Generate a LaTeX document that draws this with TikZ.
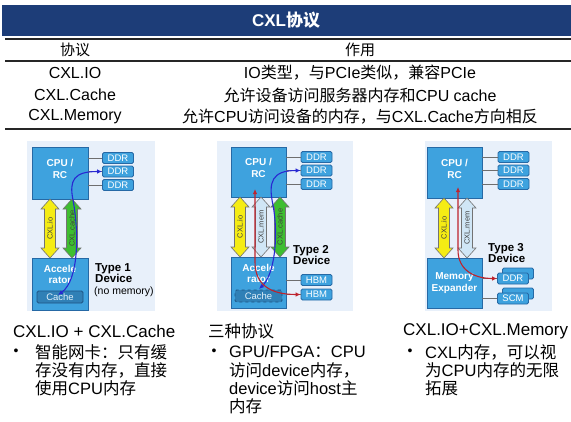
\documentclass[tikz,border=0pt]{standalone}
\usepackage{fontspec}
\setmainfont{Liberation Sans}
\newfontfamily\cjk{Noto Sans CJK SC}
\usetikzlibrary{arrows.meta}
\definecolor{navy}{RGB}{29,61,120}
\definecolor{panelbg}{RGB}{232,240,250}
\definecolor{boxblue}{RGB}{62,162,222}
\definecolor{boxline}{RGB}{38,105,165}
\definecolor{cachefill}{RGB}{48,128,182}
\definecolor{ioyellow}{RGB}{245,236,20}
\definecolor{cachegreen}{RGB}{62,190,48}
\definecolor{memblue}{RGB}{208,230,246}
\definecolor{curveblue}{RGB}{40,40,210}
\definecolor{curvered}{RGB}{190,35,45}
\definecolor{linkgray}{RGB}{110,110,110}
\newcommand\fsz[1]{\fontsize{#1}{#1}\selectfont}
\newcommand\zh[1]{{\cjk #1}}
\newcommand\fatarrow[6]{%
  \draw[line width=0.6pt, draw=black!55, fill=#5]
    (#2-9,#3+10) -- (#2,#3) -- (#2+9,#3+10) -- (#2+5.5,#3+10) -- (#2+5.5,#4-10)
    -- (#2+9,#4-10) -- (#2,#4) -- (#2-9,#4-10) -- (#2-5.5,#4-10) -- (#2-5.5,#3+10) -- cycle;
  \node[rotate=90, font=\fsz{7.5}, text=black!75, inner sep=0] (#1) at (#2,{(#3+#4)/2}) {#6};}
\tikzset{
  panel/.style={fill=panelbg, draw=none},
  bigbox/.style={draw=boxline, fill=boxblue, line width=0.8pt, inner sep=0},
  boxtext/.style={text=white, font=\bfseries\fsz{10}, align=center, inner sep=0},
  membox/.style={draw=boxline, fill=boxblue, line width=0.8pt, rounded corners=1.5pt,
    minimum width=31pt, minimum height=11pt, inner sep=0, text=white, font=\fsz{9.5}},
  cachebox/.style={draw=boxline!80!black, fill=cachefill, line width=0.8pt, rounded corners=1.5pt,
    minimum width=46pt, minimum height=12pt, inner sep=0, text=white!85!boxblue, font=\fsz{9.5}},
  link/.style={draw=linkgray, line width=0.6pt},
  typetext/.style={font=\bfseries\fsz{11.5}, anchor=west, inner sep=0, align=left},
  flowb/.style={draw=curveblue, line width=1.1pt, {Latex[length=5pt,width=4.5pt]}-{Latex[length=5pt,width=4.5pt]}},
  flowr/.style={draw=curvered, line width=1.1pt, {Latex[length=5pt,width=4.5pt]}-{Latex[length=5pt,width=4.5pt]}},
  tabrule/.style={draw=black!85, line width=1.5pt},
  cell/.style={font=\fsz{16}, inner sep=0},
  note/.style={font=\fsz{16.5}, anchor=west, inner sep=0},
}
\begin{document}
\begin{tikzpicture}[x=1pt,y=-1pt]
\useasboundingbox (0,0) rectangle (571,421);
\fill[white] (0,0) rectangle (571,421);
% title and table
\node[fill=navy, minimum width=569pt, minimum height=31pt, inner sep=0, anchor=north west] (titlebar) at (2,5) {};
\node[text=white, font=\bfseries\fsz{17}, inner sep=0] (title) at (286,20.5) {CXL\zh{协议}};
\draw[tabrule] (5,39) -- (571,39);
\draw[tabrule, line width=1.2pt] (5,61) -- (571,61);
\draw[tabrule] (5,129) -- (571,129);
\node[cell, font=\fsz{15}] (h1) at (75,49.5) {\zh{协议}};
\node[cell, font=\fsz{15}] (h2) at (360,49.5) {\zh{作用}};
\node[cell] (r1a) at (75,73) {CXL.IO};
\node[cell] (r1b) at (360,73) {IO\zh{类型，与}PCIe\zh{类似，兼容}PCIe};
\node[cell] (r2a) at (75,95) {CXL.Cache};
\node[cell] (r2b) at (360,95) {\zh{允许设备访问服务器内存和}CPU cache};
\node[cell] (r3a) at (75,117) {CXL.Memory};
\node[cell] (r3b) at (360,117) {\zh{允许}CPU\zh{访问设备的内存，与}CXL.Cache\zh{方向相反}};
% panels
\fill[panel] (27,141) rectangle (155,311);
\fill[panel] (217,141) rectangle (353,311);
\fill[panel] (425,141) rectangle (552,311);
%% panel 1
\node[bigbox, minimum width=56pt, minimum height=52pt] (cpu1) at (60,173) {};
\node[boxtext] (cpu1t) at (60,169) {CPU /\\[2pt]RC};
\node[membox] (ddr11) at (118,158) {DDR};
\node[membox] (ddr12) at (118,171.5) {DDR};
\node[membox] (ddr13) at (118,185) {DDR};
\foreach \d in {ddr11,ddr12,ddr13} \draw[link] (cpu1.east |- \d) -- (\d.west);
\fatarrow{io1}{50}{199}{258}{ioyellow}{CXL.io}
\fatarrow{ca1}{72}{199}{258}{cachegreen}{CXL.cache}
\node[bigbox, minimum width=56pt, minimum height=52pt] (acc1) at (60,284) {};
\node[boxtext] (acc1t) at (60,274) {Accele\\[1pt]rator};
\node[cachebox] (cache1) at (60,297) {Cache};
\node[typetext] (type1) at (95,273) {Type 1\\Device};
\node[font=\fsz{10.5}, anchor=west, inner sep=0] (nomem) at (94,292) {(no memory)};
\coordinate (b1s) at (58,295);
\draw[flowb] (b1s) .. controls (79,280) and (79,232) .. (73,200) .. controls (69,180) and (74,171.5) .. (ddr12.west);
%% panel 2
\node[bigbox, minimum width=55pt, minimum height=50pt] (cpu2) at (258.5,172) {};
\node[boxtext] (cpu2t) at (258.5,168) {CPU /\\[2pt]RC};
\node[membox] (ddr21) at (316.5,157) {DDR};
\node[membox] (ddr22) at (316.5,170.5) {DDR};
\node[membox] (ddr23) at (316.5,184) {DDR};
\foreach \d in {ddr21,ddr22,ddr23} \draw[link] (cpu2.east |- \d) -- (\d.west);
\fatarrow{io2}{240}{197}{257}{ioyellow}{CXL.io}
\fatarrow{me2}{261}{197}{257}{memblue}{CXL.mem}
\fatarrow{ca2}{280}{197}{257}{cachegreen}{CXL.cache}
\node[bigbox, minimum width=55pt, minimum height=51pt] (acc2) at (258.5,282.5) {};
\node[boxtext] (acc2t) at (258.5,273) {Accele\\[1pt]rator};
\node[cachebox, dashed, minimum width=47pt] (cache2) at (258.5,296) {Cache};
\node[membox] (hbm21) at (316.5,280) {HBM};
\node[membox] (hbm22) at (316.5,294.5) {HBM};
\foreach \d in {hbm21,hbm22} \draw[link] (acc2.east |- \d) -- (\d.west);
\node[typetext] (type2) at (293,255) {Type 2\\Device};
\coordinate (b2s) at (259,289);
\draw[flowb] (b2s) .. controls (274,275) and (279,238) .. (273,205) .. controls (268,182) and (272,170.5) .. (ddr22.west);
\coordinate (r2t) at (255,189);
\draw[flowr] (r2t) -- (255,262) .. controls (255,286) and (272,294.5) .. (hbm22.west);
%% panel 3
\node[bigbox, minimum width=55pt, minimum height=51pt] (cpu3) at (454.5,172.5) {};
\node[boxtext] (cpu3t) at (454.5,168.5) {CPU /\\[2pt]RC};
\node[membox] (ddr31) at (513.5,157) {DDR};
\node[membox] (ddr32) at (513.5,170.5) {DDR};
\node[membox] (ddr33) at (513.5,184) {DDR};
\foreach \d in {ddr31,ddr32,ddr33} \draw[link] (cpu3.east |- \d) -- (\d.west);
\fatarrow{io3}{444}{198}{258}{ioyellow}{CXL.io}
\fatarrow{me3}{467}{198}{258}{memblue}{CXL.mem}
\node[bigbox, minimum width=55pt, minimum height=50pt] (mex) at (454.5,283) {};
\node[boxtext] (mext) at (454.5,283) {Memory\\[2pt]Expander};
\node[membox] (ddr3b) at (518,273.5) {};
\node[membox] (ddr3f) at (513,278.5) {DDR};
\node[membox] (scm3b) at (518,293.5) {};
\node[membox] (scm3f) at (513,298.5) {SCM};
\foreach \d in {ddr3f,scm3f} \draw[link] (mex.east |- \d) -- (\d.west);
\node[typetext] (type3) at (488,253) {Type 3\\Device};
\coordinate (r3t) at (458,187);
\draw[flowr] (r3t) -- (458,250) .. controls (458,270) and (474,278.5) .. (ddr3f.west);
% bottom notes
\node[note, font=\fsz{17}] (n1h) at (13,331) {CXL.IO + CXL.Cache};
\node[font=\fsz{14}, inner sep=0] (n1b) at (16,352) {•};
\node[note] (n11) at (35,352) {\zh{智能网卡：只有缓}};
\node[note] (n12) at (35,370) {\zh{存没有内存，直接}};
\node[note] (n13) at (35,388) {\zh{使用}CPU\zh{内存}};
\node[note] (n2h) at (208,331) {\zh{三种协议}};
\node[font=\fsz{14}, inner sep=0] (n2b) at (214,352) {•};
\node[note] (n21) at (229,352) {GPU/FPGA\zh{：}CPU};
\node[note] (n22) at (229,370) {\zh{访问}device\zh{内存，}};
\node[note] (n23) at (229,388) {device\zh{访问}host\zh{主}};
\node[note] (n24) at (229,406) {\zh{内存}};
\node[note, font=\fsz{17}] (n3h) at (403,331) {CXL.IO+CXL.Memory};
\node[font=\fsz{14}, inner sep=0] (n3b) at (410,352) {•};
\node[note] (n31) at (425,352) {CXL\zh{内存，可以视}};
\node[note] (n32) at (425,370) {\zh{为}CPU\zh{内存的无限}};
\node[note] (n33) at (425,388) {\zh{拓展}};
\end{tikzpicture}
\end{document}
